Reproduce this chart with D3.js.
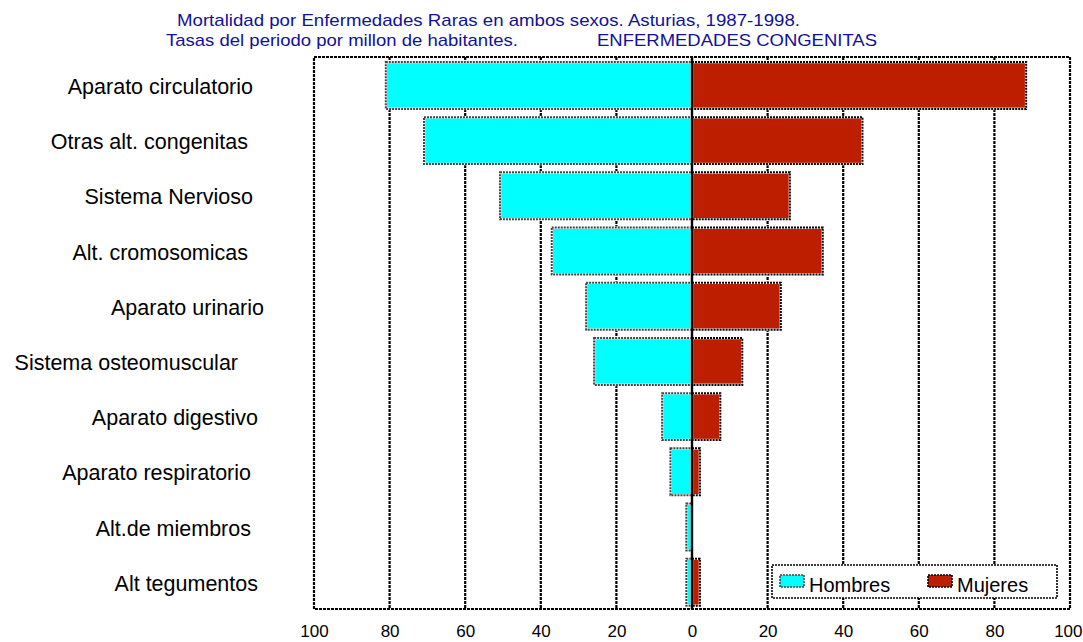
<!DOCTYPE html>
<html>
<head>
<meta charset="utf-8">
<script src="https://cdn.jsdelivr.net/npm/d3@7"></script>
<style>
  html, body { margin: 0; padding: 0; background: #ffffff; }
  svg { display: block; font-family: "Liberation Sans", Arial, sans-serif; }
</style>
</head>
<body>
<svg id="chart" width="1083" height="642"></svg>
<script>
// ---- data ----
const categories = [
  "Aparato circulatorio",
  "Otras alt. congenitas",
  "Sistema Nervioso",
  "Alt. cromosomicas",
  "Aparato urinario",
  "Sistema osteomuscular",
  "Aparato digestivo",
  "Aparato respiratorio",
  "Alt.de miembros",
  "Alt tegumentos"
];
const hombres = [81.0, 70.9, 50.8, 37.1, 28.0, 25.9, 7.9, 5.7, 1.5, 1.5];
const mujeres = [88.4, 45.1, 25.9, 34.6, 23.5, 13.3, 7.5, 2.1, 0, 2.1];
const tickValues = [-100, -80, -60, -40, -20, 0, 20, 40, 60, 80, 100];
const seriesNames = ["Hombres", "Mujeres"];
const titleLine1 = "Mortalidad por Enfermedades Raras en ambos sexos. Asturias, 1987-1998.";
const titleLine2 = "Tasas del periodo por millon de habitantes.";
const titleRight = "ENFERMEDADES CONGENITAS";

// ---- layout ----
const colors = { h: "#00ffff", m: "#bd1e00", title: "#11119a" };
const plot = { left: 314, right: 1070, top: 57, bottom: 609 };
const labelRightEdge = [253, 248, 253, 248, 264, 238, 258, 251, 251, 258];

const svg = d3.select("#chart");

const x = d3.scaleLinear().domain([-100, 100]).range([plot.left, plot.right]);
const y = d3.scaleBand().domain(categories).range([plot.top, plot.bottom])
  .paddingInner(0.15).paddingOuter(0.075).align(0.6);

// titles
const tg = svg.append("g").attr("fill", colors.title).attr("font-size", 17);
tg.append("text").attr("x", 177).attr("y", 26).attr("textLength", 623)
  .attr("lengthAdjust", "spacingAndGlyphs").text(titleLine1);
tg.append("text").attr("x", 166).attr("y", 46).attr("textLength", 352)
  .attr("lengthAdjust", "spacingAndGlyphs").text(titleLine2);
tg.append("text").attr("x", 597).attr("y", 46).attr("textLength", 280)
  .attr("lengthAdjust", "spacingAndGlyphs").text(titleRight);

// gridlines
const dash = "2,1";
svg.append("g").selectAll("line")
  .data(tickValues.filter(d => d !== 0 && Math.abs(d) !== 100))
  .join("line")
  .attr("x1", d => x(d)).attr("x2", d => x(d))
  .attr("y1", plot.top).attr("y2", plot.bottom)
  .attr("stroke", "#000").attr("stroke-width", 2.2).attr("stroke-dasharray", "3,1");

// frame
svg.append("rect")
  .attr("x", plot.left).attr("y", plot.top)
  .attr("width", plot.right - plot.left).attr("height", plot.bottom - plot.top)
  .attr("fill", "none").attr("stroke", "#000").attr("stroke-width", 2.2)
  .attr("stroke-dasharray", "3,1");

// bars
const rows = categories.map((c, i) => ({ c, h: hombres[i], m: mujeres[i] }));
const barG = svg.append("g");
function drawBars(key, fill, edge) {
  const sel = rows.filter(r => r[key] > 0);
  const xs = r => key === "h" ? x(-r.h) : x(0);
  const ws = r => key === "h" ? x(0) - x(-r.h) : x(r.m) - x(0);
  barG.append("g").selectAll("rect").data(sel).join("rect")
    .attr("x", xs).attr("y", r => y(r.c)).attr("width", ws).attr("height", y.bandwidth())
    .attr("fill", fill).attr("stroke", "#fff").attr("stroke-width", 2.5);
  barG.append("g").selectAll("rect").data(sel).join("rect")
    .attr("x", xs).attr("y", r => y(r.c)).attr("width", ws).attr("height", y.bandwidth())
    .attr("fill", "none").attr("stroke", edge).attr("stroke-width", 2)
    .attr("stroke-dasharray", dash);
}
drawBars("h", colors.h, "#444");
drawBars("m", colors.m, "#000");

// zero line
svg.append("line")
  .attr("x1", x(0)).attr("x2", x(0)).attr("y1", plot.top).attr("y2", plot.bottom)
  .attr("stroke", "#000").attr("stroke-width", 2.4);

// x axis labels
const xAxis = d3.axisBottom(x).tickValues(tickValues).tickSize(0).tickPadding(0)
  .tickFormat(d => Math.abs(d));
const ax = svg.append("g").attr("transform", `translate(0, ${plot.bottom + 16})`).call(xAxis);
ax.select(".domain").remove();
ax.selectAll("text").attr("font-size", 17).attr("fill", "#000")
  .attr("font-family", "Liberation Sans, Arial, sans-serif");
ax.selectAll(".tick").filter(d => d === 100).select("text")
  .attr("text-anchor", "end").attr("x", 1082 - x(100));

// category labels
svg.append("g").selectAll("text").data(categories).join("text")
  .attr("x", (d, i) => labelRightEdge[i])
  .attr("y", d => y(d) + y.bandwidth() / 2)
  .attr("dy", "0.4em")
  .attr("text-anchor", "end")
  .attr("font-size", 21.5)
  .attr("fill", "#000")
  .text(d => d);

// legend
const lg = svg.append("g");
lg.append("rect").attr("x", 772).attr("y", 565).attr("width", 285).attr("height", 33)
  .attr("fill", "#fff").attr("stroke", "#000").attr("stroke-width", 1.6)
  .attr("stroke-dasharray", dash);
const legItems = [
  { name: seriesNames[0], fill: colors.h, edge: "#444", x: 780 },
  { name: seriesNames[1], fill: colors.m, edge: "#000", x: 928 }
];
legItems.forEach(it => {
  lg.append("rect").attr("x", it.x).attr("y", 575).attr("width", 24).attr("height", 12)
    .attr("fill", it.fill).attr("stroke", it.edge).attr("stroke-width", 1.6)
    .attr("stroke-dasharray", dash);
  lg.append("text").attr("x", it.x + 29).attr("y", 592).attr("font-size", 20)
    .attr("fill", "#000").text(it.name);
});
</script>
</body>
</html>
